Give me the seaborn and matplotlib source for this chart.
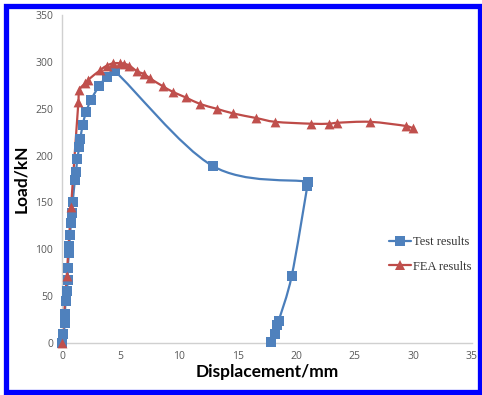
import matplotlib
matplotlib.use("Agg")
import matplotlib.pyplot as plt
import seaborn as sns
import pandas as pd
import numpy as np
from matplotlib.patches import Rectangle, PathPatch
from matplotlib.path import Path
from matplotlib.lines import Line2D

# Test results (blue squares)
test_disp = [0, 0.11, 0.26, 0.26, 0.3, 0.4, 0.49, 0.49, 0.6, 0.62, 0.68, 0.77, 0.83, 0.91,
             1.1, 1.2, 1.3, 1.48, 1.57, 1.77, 2.05, 2.45, 3.16, 3.8, 4.5,
             12.85, 21.0, 20.95, 19.6, 18.5, 18.35, 18.2, 17.84]
test_load = [0, 10, 21, 31, 45, 56, 67, 80, 96, 103, 115, 128, 139, 150,
             174, 182, 196, 209, 218, 233, 246, 259, 274, 284, 290,
             189, 172, 168, 71, 24, 19, 10, 1]

# FEA results (red triangles)
fea_disp = [0, 0.4, 0.77, 1.4, 1.48, 1.97, 2.25, 3.25, 3.82, 4.39, 4.96, 5.3, 5.75,
            6.4, 7.0, 7.5, 8.6, 9.46, 10.57, 11.8, 13.2, 14.6, 16.6, 18.2, 21.25,
            22.76, 23.5, 26.3, 29.4, 30.0]
fea_load = [0, 71, 145, 257, 270, 277, 281, 291, 296, 298.5, 298.5, 298, 296,
            290, 287, 282.5, 274, 268, 262, 255, 250, 245, 240, 236, 234,
            234, 235, 236, 231.5, 229]

x_ticks = [0, 5, 10, 15, 20, 25, 30, 35]
y_ticks = [0, 50, 100, 150, 200, 250, 300, 350]

sns.set_theme(style="white")
plt.rcParams['font.family'] = ['Open Sans', 'DejaVu Sans']

fig = plt.figure(figsize=(4.82, 3.95), dpi=100)
ax = fig.add_axes([62/482, 52/395, 410/482, 328/395])
ax.set_xlim(0, 35)
ax.set_ylim(0, 350)

blue_line = "#4A7EBB"
blue_mark = "#4F81BD"
red_line = "#BE4B48"
red_mark = "#C0504D"


def smooth_path(xs, ys):
    """Smoothed connector (Catmull-Rom Bezier, handles clamped to avoid loops)
    through the data points, built in display space."""
    P = np.column_stack([xs, ys]).astype(float)
    D = ax.transData.transform(P)
    n = len(D)
    seg = np.linalg.norm(np.diff(D, axis=0), axis=1)
    M = np.zeros_like(D)
    M[0] = D[1] - D[0]
    M[-1] = D[-1] - D[-2]
    for i in range(1, n - 1):
        M[i] = (D[i + 1] - D[i - 1]) / 2.0

    def handle(m, limit):
        h = m / 3.0
        L = np.linalg.norm(h)
        if L > limit and L > 0:
            h = h * (limit / L)
        return h

    verts = [D[0]]
    codes = [Path.MOVETO]
    for i in range(n - 1):
        lim = 0.45 * seg[i]
        verts += [D[i] + handle(M[i], lim), D[i + 1] - handle(M[i + 1], lim), D[i + 1]]
        codes += [Path.CURVE4] * 3
    V = ax.transData.inverted().transform(np.array(verts))
    return Path(V, codes)


df_test = pd.DataFrame({"disp": test_disp, "load": test_load})
df_fea = pd.DataFrame({"disp": fea_disp, "load": fea_load})

ax.add_patch(PathPatch(smooth_path(test_disp, test_load), facecolor="none",
                       edgecolor=blue_line, lw=1.6, zorder=2))
ax.add_patch(PathPatch(smooth_path(fea_disp, fea_load), facecolor="none",
                       edgecolor=red_line, lw=1.6, zorder=2))

sns.scatterplot(data=df_test, x="disp", y="load", ax=ax, marker="s", s=45,
                color=blue_mark, linewidth=0, zorder=3, clip_on=False, legend=False)
sns.scatterplot(data=df_fea, x="disp", y="load", ax=ax, marker="^", s=50,
                color=red_mark, linewidth=0, zorder=3, clip_on=False, legend=False)

ax.set_xlim(0, 35)
ax.set_ylim(0, 350)
ax.set_xticks(x_ticks)
ax.set_yticks(y_ticks)
ax.tick_params(axis="both", labelsize=7.5, colors="#595959", length=3, width=0.8,
               direction="out")
ax.tick_params(axis="x", direction="inout", length=4)
for side in ["top", "right"]:
    ax.spines[side].set_visible(False)
for side in ["left", "bottom"]:
    ax.spines[side].set_color("#D0D0D0")
    ax.spines[side].set_linewidth(1.0)
ax.set_xlabel("Displacement/mm", fontsize=12.5, fontweight="bold", color="black",
              family=["Lato", "DejaVu Sans"], labelpad=2)
ax.set_ylabel("Load/kN", fontsize=12.5, fontweight="bold", color="black",
              family=["Lato", "DejaVu Sans"], labelpad=4)

handles = [
    Line2D([], [], color=blue_line, lw=1.6, marker="s", markersize=6.5,
           markerfacecolor=blue_mark, markeredgewidth=0),
    Line2D([], [], color=red_line, lw=1.6, marker="^", markersize=7,
           markerfacecolor=red_mark, markeredgewidth=0),
]
leg = ax.legend(handles, ["Test results", "FEA results"], loc="upper left",
                bbox_to_anchor=(0.77, 0.36), frameon=False,
                prop={"family": ["Liberation Serif"], "size": 9},
                handlelength=1.8, handletextpad=0.15, labelspacing=1.0)
for t in leg.get_texts():
    t.set_color("#333333")

fig.patches.append(Rectangle((5.5/482, 3/395), (480 - 5.5)/482, (389.5 - 3)/395,
                             transform=fig.transFigure, fill=False,
                             edgecolor="#0000FF", linewidth=3.8, zorder=10))

fig.savefig("out.png", dpi=100)
